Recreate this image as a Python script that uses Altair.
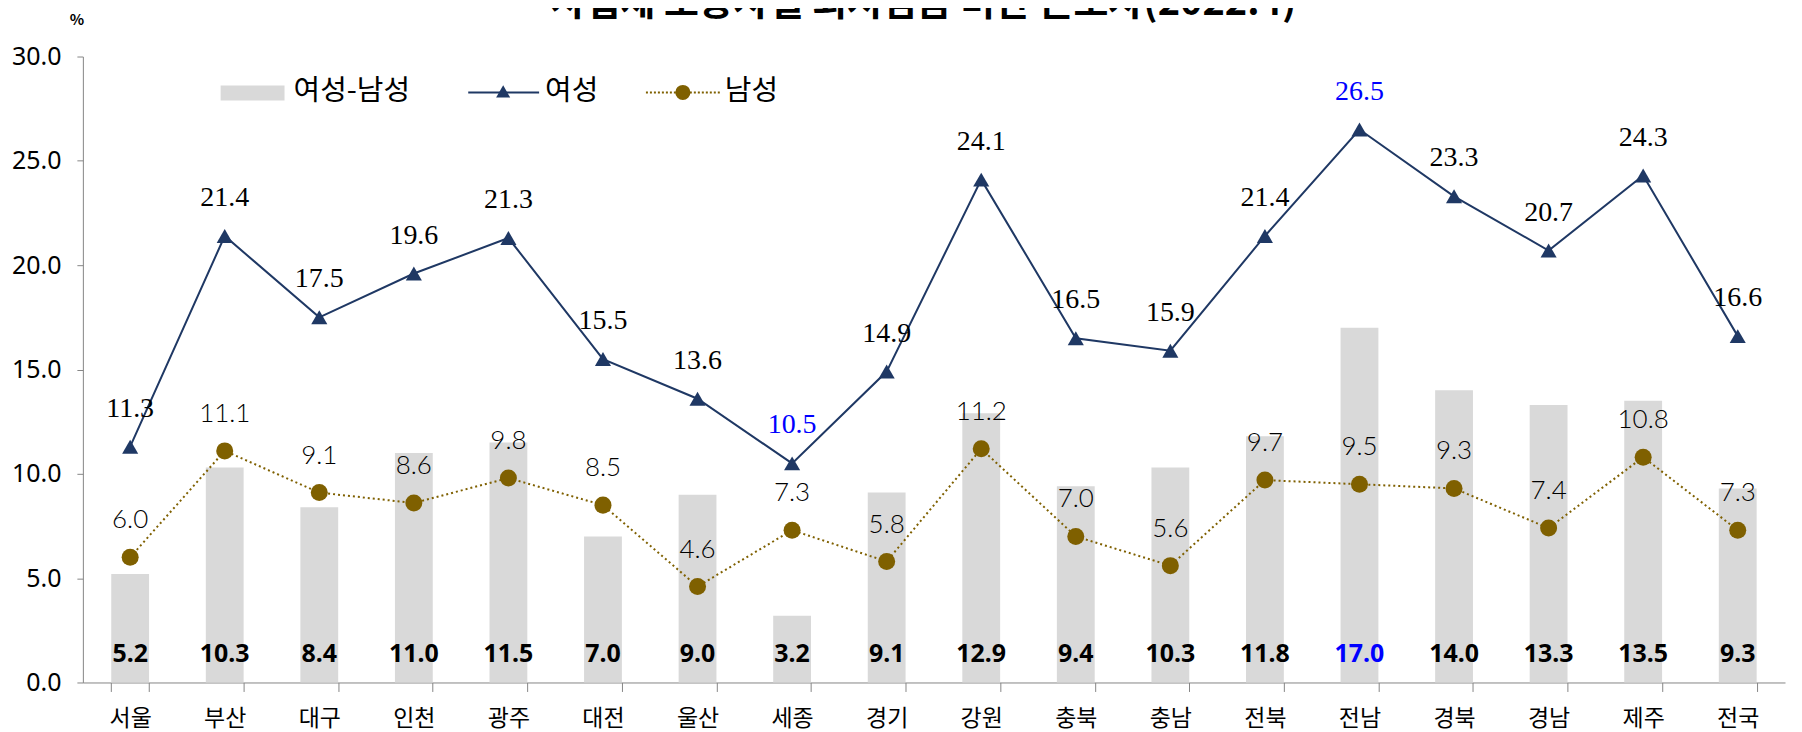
import altair as alt
import pandas as pd

regions = ["서울", "부산", "대구", "인천", "광주", "대전", "울산", "세종", "경기",
           "강원", "충북", "충남", "전북", "전남", "경북", "경남", "제주", "전국"]
women = [11.3, 21.4, 17.5, 19.6, 21.3, 15.5, 13.6, 10.5, 14.9,
         24.1, 16.5, 15.9, 21.4, 26.5, 23.3, 20.7, 24.3, 16.6]
men = [6.0, 11.1, 9.1, 8.6, 9.8, 8.5, 4.6, 7.3, 5.8,
       11.2, 7.0, 5.6, 9.7, 9.5, 9.3, 7.4, 10.8, 7.3]
diff = [5.2, 10.3, 8.4, 11.0, 11.5, 7.0, 9.0, 3.2, 9.1,
        12.9, 9.4, 10.3, 11.8, 17.0, 14.0, 13.3, 13.5, 9.3]
y_ticks = [0, 5, 10, 15, 20, 25, 30]
title_text = "사업체 노동자별 최저임금 미만 근로자(2022.4)"
legend_labels = ["여성-남성", "여성", "남성"]

df = pd.DataFrame({"region": regions, "women": women, "men": men, "diff": diff})

W, H = 1705, 627
NAVY = "#1F3864"
BROWN = "#7F6000"
BLUE = "#0000FF"
NUM_FONT = "Liberation Sans Narrow, Noto Sans, sans-serif"
KR_FONT = "Noto Sans CJK KR"

x = alt.X("region:N", sort=regions, title=None,
          axis=alt.Axis(labelAngle=0, labelFont=KR_FONT, labelFontSize=23,
                        labelColor="#000000", tickBand="extent", tickSize=9,
                        labelPadding=16, domainColor="#868686", tickColor="#868686"),
          scale=alt.Scale(paddingInner=0.6, paddingOuter=0.3))
y_axis = alt.Axis(values=y_ticks, format=".1f", grid=False, labelFont=NUM_FONT,
                  labelFontSize=25, labelFontWeight="normal", labelColor="#000000",
                  tickSize=6, labelPadding=16,
                  domainColor="#868686", tickColor="#868686")
y_scale = alt.Scale(domain=[0, 30], nice=False)

base = alt.Chart(df)

bars = base.mark_bar(color="#D9D9D9").encode(
    x=x, y=alt.Y("diff:Q", scale=y_scale, axis=y_axis, title=None))

bar_labels = base.mark_text(font=NUM_FONT, fontWeight="bold", fontSize=25,
                            baseline="middle").encode(
    x=x, y=alt.value(H - 29), text=alt.Text("diff:Q", format=".1f"),
    color=alt.condition("datum.region == '전남'", alt.value(BLUE), alt.value("#000000")))

men_line = base.mark_line(color=BROWN, strokeWidth=2, strokeDash=[2, 3]).encode(
    x=x, y=alt.Y("men:Q", scale=y_scale))
men_pts = base.mark_point(shape="circle", filled=True, color=BROWN, size=290, opacity=1).encode(
    x=x, y=alt.Y("men:Q", scale=y_scale))
men_labels = base.mark_text(font="Lato", fontWeight=300, fontSize=26, dy=-37,
                            color="#000000").encode(
    x=x, y=alt.Y("men:Q", scale=y_scale), text=alt.Text("men:Q", format=".1f"))

women_line = base.mark_line(color=NAVY, strokeWidth=2).encode(
    x=x, y=alt.Y("women:Q", scale=y_scale))
women_pts = base.mark_point(shape="triangle-up", filled=True, color=NAVY, size=260, opacity=1).encode(
    x=x, y=alt.Y("women:Q", scale=y_scale))
women_labels = base.mark_text(font="Liberation Serif", fontSize=28, dy=-38).encode(
    x=x, y=alt.Y("women:Q", scale=y_scale), text=alt.Text("women:Q", format=".1f"),
    color=alt.condition("datum.region == '세종' || datum.region == '전남'",
                        alt.value(BLUE), alt.value("#000000")))

# manual legend
one = alt.Chart(pd.DataFrame({"a": [0]}))
leg_rect = one.mark_rect(color="#D9D9D9").encode(
    x=alt.value(138), x2=alt.value(202), y=alt.value(29), y2=alt.value(44))
leg_t1 = one.mark_text(font=KR_FONT, fontSize=29, align="left", baseline="middle",
                       text=legend_labels[0]).encode(x=alt.value(211), y=alt.value(35))
leg_l2 = one.mark_rule(color=NAVY, strokeWidth=2).encode(
    x=alt.value(386), x2=alt.value(457), y=alt.value(36))
leg_p2 = one.mark_point(shape="triangle-up", filled=True, color=NAVY, size=200, opacity=1).encode(
    x=alt.value(421), y=alt.value(35))
leg_t2 = one.mark_text(font=KR_FONT, fontSize=29, align="left", baseline="middle",
                       text=legend_labels[1]).encode(x=alt.value(463), y=alt.value(35))
leg_l3 = one.mark_rule(color=BROWN, strokeWidth=2, strokeDash=[2, 2]).encode(
    x=alt.value(564), x2=alt.value(638), y=alt.value(36))
leg_p3 = one.mark_point(shape="circle", filled=True, color=BROWN, size=230, opacity=1).encode(
    x=alt.value(601), y=alt.value(36))
leg_t3 = one.mark_text(font=KR_FONT, fontSize=29, align="left", baseline="middle",
                       text=legend_labels[2]).encode(x=alt.value(643), y=alt.value(35))

pct = one.mark_text(font=KR_FONT, fontSize=15, fontWeight="bold", text="%").encode(
    x=alt.value(-6), y=alt.value(-37))
title = one.mark_text(font=KR_FONT, fontSize=38, fontWeight="bold",
                      baseline="alphabetic", text=title_text).encode(
    x=alt.value(842), y=alt.value(-42))

chart = alt.layer(
    bars, bar_labels, men_line, women_line, men_pts, women_pts, men_labels, women_labels,
    leg_rect, leg_t1, leg_l2, leg_p2, leg_t2, leg_l3, leg_p3, leg_t3, pct, title
).properties(
    width=W, height=H,
    padding={"left": 75, "top": 48, "right": 9, "bottom": 52},
    autosize=alt.AutoSizeParams(type="none"),
    background="#FFFFFF",
).configure_view(stroke=None)

chart.save("out.html", embed_options={"renderer": "svg", "actions": False})
